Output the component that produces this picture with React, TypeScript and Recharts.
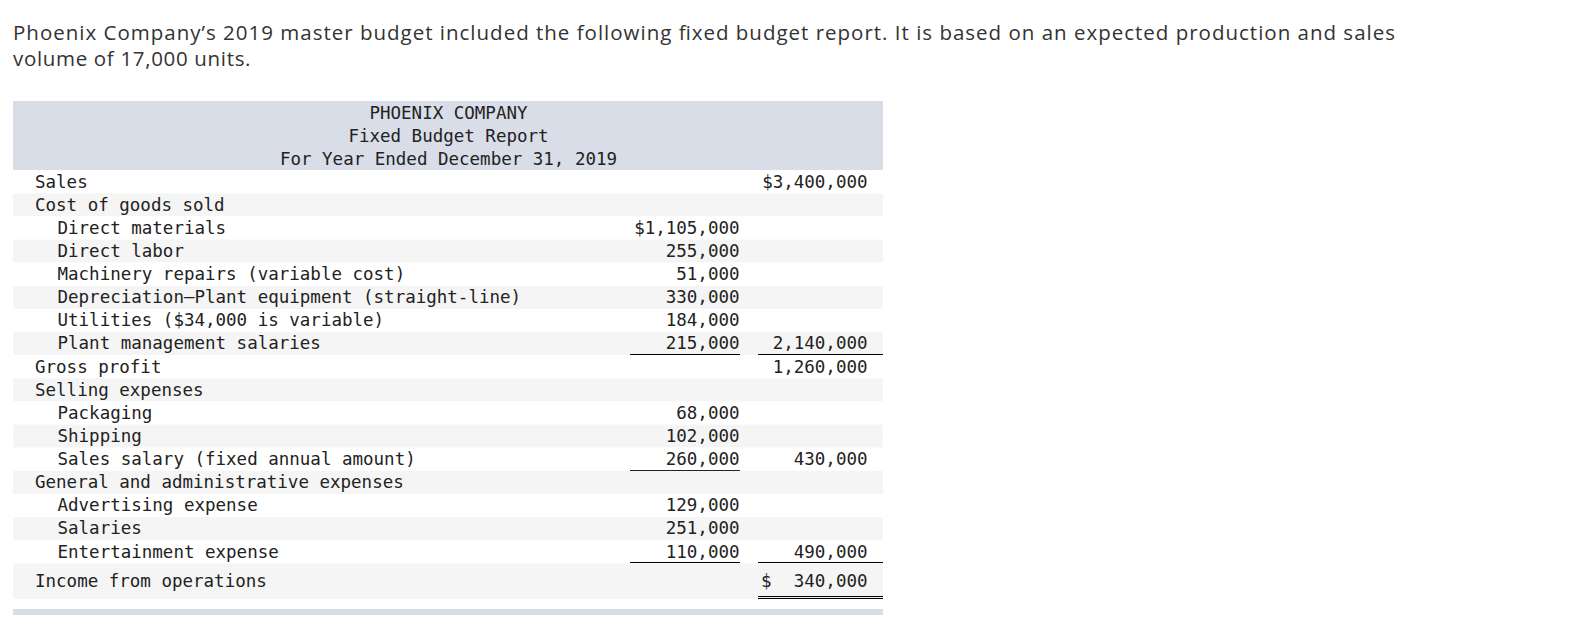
import React from "react";
import { BarChart, Bar, XAxis, YAxis } from "recharts";

const introLines = [
  "Phoenix Company’s 2019 master budget included the following fixed budget report. It is based on an expected production and sales",
  "volume of 17,000 units.",
];

const reportTitle = ["PHOENIX COMPANY", "Fixed Budget Report", "For Year Ended December 31, 2019"];

const rowLabels = [
  "Sales",
  "Cost of goods sold",
  "Direct materials",
  "Direct labor",
  "Machinery repairs (variable cost)",
  "Depreciation—Plant equipment (straight-line)",
  "Utilities ($34,000 is variable)",
  "Plant management salaries",
  "Gross profit",
  "Selling expenses",
  "Packaging",
  "Shipping",
  "Sales salary (fixed annual amount)",
  "General and administrative expenses",
  "Advertising expense",
  "Salaries",
  "Entertainment expense",
  "Income from operations",
];

const rowIndent = [0, 0, 1, 1, 1, 1, 1, 1, 0, 0, 1, 1, 1, 0, 1, 1, 1, 0];

const detailAmounts = [
  null, null, 1105000, 255000, 51000, 330000, 184000, 215000, null,
  null, 68000, 102000, 260000, null, 129000, 251000, 110000, null,
];

const totalAmounts = [
  3400000, null, null, null, null, null, null, 2140000, 1260000,
  null, null, null, 430000, null, null, null, 490000, 340000,
];

const detailDollarRows = [2];
const totalDollarRows = [0, 17];
const detailRuleRows = [7, 12, 16];
const totalRuleRows = [7, 16];
const doubleRuleRows = [17];

const rows = rowLabels.map((label, i) => ({
  row: i,
  label,
  indent: rowIndent[i],
  detail: detailAmounts[i],
  total: totalAmounts[i],
  span: 1,
}));

const MONO = "'DejaVu Sans Mono', 'Liberation Mono', monospace";
const INK = "#222";
const HEADER_BG = "#d9dde7";
const STRIPE = "#f5f5f5";

const fmt = (v: number) => v.toLocaleString("en-US");

// one bar per row: stripe + label + amounts + rules
const RowShape = (props: any) => {
  const { x, y, width, height, payload } = props;
  const i = payload.row;
  const last = i === rowLabels.length - 1;
  const h = last ? 35.7 : height;
  const base = last ? y + 23.3 : y + height / 2 + 5.8;
  const bottom = Math.round(y + height) - 0.5;
  const col1 = x + 726.5;
  const col2 = x + 854.5;

  let totalText: React.ReactNode = null;
  if (payload.total != null) {
    const dollar = totalDollarRows.includes(i);
    if (dollar && last) {
      totalText = (
        <>
          <text x={x + 748} y={base}>$</text>
          <text x={col2} y={base} textAnchor="end">{fmt(payload.total)}</text>
        </>
      );
    } else {
      totalText = (
        <text x={col2} y={base} textAnchor="end">
          {(dollar ? "$" : "") + fmt(payload.total)}
        </text>
      );
    }
  }

  const yi = Math.round(y);

  return (
    <g fontFamily={MONO} fontSize={17.5} fill={INK}>
      <rect x={x} y={y} width={width} height={h} fill={i % 2 === 1 ? STRIPE : "#ffffff"} />
      <text x={x + 22 + payload.indent * 22.5} y={base}>{payload.label}</text>
      {payload.detail != null && (
        <text x={col1} y={base} textAnchor="end">
          {(detailDollarRows.includes(i) ? "$" : "") + fmt(payload.detail)}
        </text>
      )}
      {totalText}
      {detailRuleRows.includes(i) && (
        <line x1={x + 617} x2={x + 727} y1={bottom} y2={bottom} stroke="#000" strokeWidth={1} />
      )}
      {totalRuleRows.includes(i) && (
        <line x1={x + 745} x2={x + width} y1={bottom} y2={bottom} stroke="#000" strokeWidth={1} />
      )}
      {doubleRuleRows.includes(i) && (
        <>
          <line x1={x + 745} x2={x + width} y1={yi + 33.5} y2={yi + 33.5} stroke="#000" strokeWidth={1} />
          <line x1={x + 745} x2={x + width} y1={yi + 35.5} y2={yi + 35.5} stroke="#000" strokeWidth={1} />
        </>
      )}
    </g>
  );
};

export default function App() {
  return (
    <div style={{ position: "absolute", left: 0, top: 0, background: "#fff" }}>
      <BarChart
        width={1590}
        height={630}
        data={rows}
        layout="vertical"
        margin={{ top: 170.2, right: 707, bottom: 43.5, left: 13 }}
        barCategoryGap={0}
      >
        <XAxis type="number" hide domain={[0, 1]} />
        <YAxis type="category" dataKey="label" hide />
        <g fontFamily="'Open Sans', Lato, sans-serif" fontSize={20.5} fill="#333">
          <text x={13} y={39.5} textLength={1382} lengthAdjust="spacing">{introLines[0]}</text>
          <text x={13} y={66} textLength={237.5} lengthAdjust="spacing">{introLines[1]}</text>
        </g>
        <rect x={13} y={101} width={870} height={69.2} fill={HEADER_BG} />
        <g fontFamily={MONO} fontSize={17.5} fill={INK} textAnchor="middle">
          {reportTitle.map((t, i) => (
            <text key={i} x={448.5} y={119.4 + i * 22.8}>{t}</text>
          ))}
        </g>
        <rect x={13} y={609} width={870} height={6} fill={HEADER_BG} />
        <Bar dataKey="span" isAnimationActive={false} shape={RowShape} />
      </BarChart>
    </div>
  );
}
